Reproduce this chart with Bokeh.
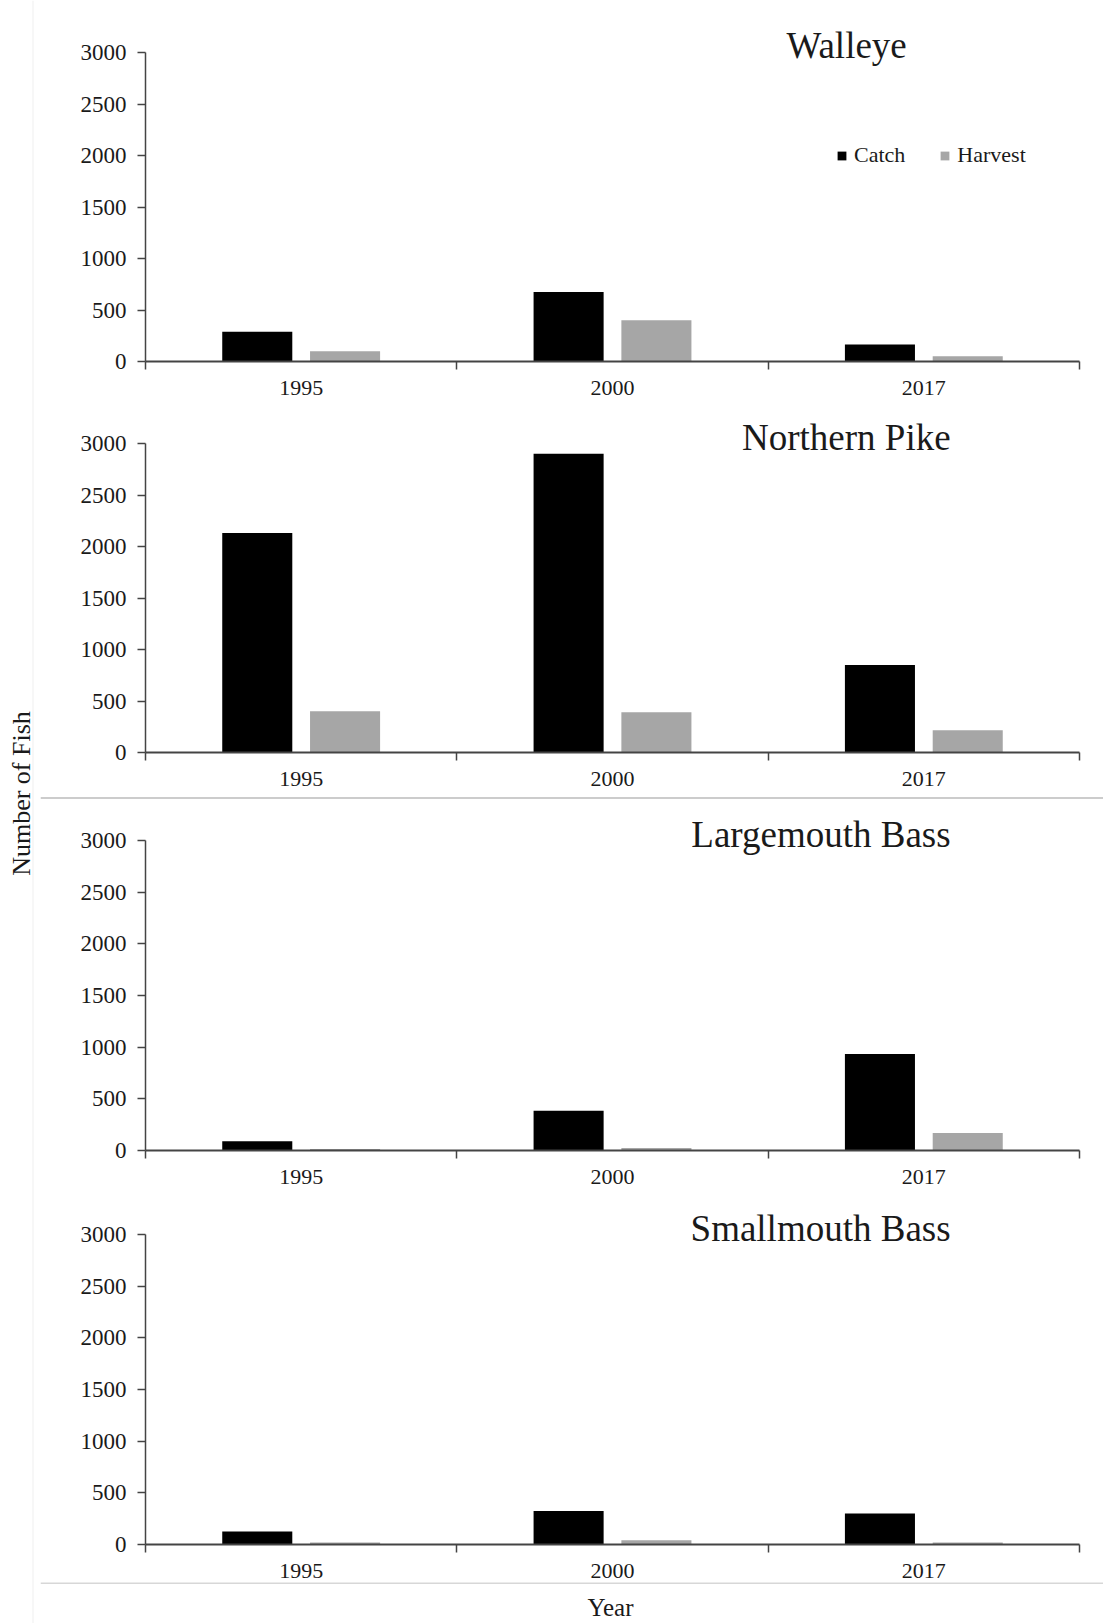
import math
from bokeh.plotting import figure
from bokeh.layouts import column, row
from bokeh.models import (Range1d, FixedTicker, ColumnDataSource, Label, Legend,
                          LegendItem, Span)
from bokeh.transform import dodge
from bokeh.embed import file_html
from bokeh.resources import INLINE

# ---------------- data ----------------
years = ["1995", "2000", "2017"]
species = ["Walleye", "Northern Pike", "Largemouth Bass", "Smallmouth Bass"]
series_names = ["Catch", "Harvest"]

catch_walleye = [290, 675, 165]
harvest_walleye = [100, 400, 50]
catch_pike = [2130, 2900, 850]
harvest_pike = [400, 390, 215]
catch_largemouth = [90, 385, 935]
harvest_largemouth = [15, 25, 170]
catch_smallmouth = [125, 325, 300]
harvest_smallmouth = [20, 40, 20]

y_ticks = [0, 500, 1000, 1500, 2000, 2500, 3000]
y_max = 3000

catch_all = [catch_walleye, catch_pike, catch_largemouth, catch_smallmouth]
harvest_all = [harvest_walleye, harvest_pike, harvest_largemouth, harvest_smallmouth]

# ---------------- style ----------------
FONT = "Liberation Serif"
TXT = "#1a1a1a"
AXC = "#444444"
CATCH_COLOR = "#000000"
HARVEST_COLOR = "#a6a6a6"
LEFT_W = 40
PANEL_W = 1063
EXTRA = 34  # px of frame kept above the 3000 line for the panel titles
# (height, top border above 3000 line, bottom border, axis height in px)
geom = [(400, 52, 39, 309), (392, 43, 40, 309), (390, 40, 40, 310), (392, 44, 38, 310)]
# title placement: (align, x in category units, y offset px)
title_pos = [("center", 2.252, 7), ("right", 2.586, 6), ("right", 2.586, 6), ("right", 2.586, 6)]

n = len(years)
x_centers = [i + 0.5 for i in range(n)]
x_bounds = [float(i) for i in range(n + 1)]

panels = []
for k, name in enumerate(species):
    h, top, bb, axh = geom[k]
    y_end = y_max * (axh + EXTRA) / axh
    p = figure(width=PANEL_W, height=h, output_backend="svg", toolbar_location=None,
               x_range=Range1d(0, n), y_range=Range1d(0, y_end),
               min_border_left=145 - LEFT_W, min_border_right=24,
               min_border_top=top - EXTRA, min_border_bottom=bb)
    p.outline_line_color = None
    p.grid.visible = False
    p.background_fill_color = "white"
    p.border_fill_color = "white"

    src = ColumnDataSource(dict(xc=x_centers, catch=catch_all[k], harvest=harvest_all[k]))
    rc = p.vbar(x=dodge("xc", -0.141), top="catch", width=0.225, source=src,
                fill_color=CATCH_COLOR, line_color=None)
    rh = p.vbar(x=dodge("xc", 0.141), top="harvest", width=0.225, source=src,
                fill_color=HARVEST_COLOR, line_color=None)

    # x axis
    xa = p.xaxis[0]
    xa.ticker = FixedTicker(ticks=x_centers, minor_ticks=x_bounds)
    xa.major_label_overrides = {c: y for c, y in zip(x_centers, years)}
    xa.major_tick_out = 0
    xa.major_tick_in = 0
    xa.minor_tick_out = 8
    xa.minor_tick_in = 0
    xa.minor_tick_line_color = AXC
    xa.minor_tick_line_width = 1.5
    xa.axis_line_color = AXC
    xa.axis_line_width = 2
    xa.major_label_text_font = FONT
    xa.major_label_text_font_size = "22px"
    xa.major_label_text_color = TXT
    xa.major_label_standoff = 11

    # y axis
    ya = p.yaxis[0]
    ya.ticker = FixedTicker(ticks=y_ticks)
    ya.bounds = (0, y_max)
    ya.major_tick_out = 8
    ya.major_tick_in = 0
    ya.minor_tick_out = 0
    ya.minor_tick_in = 0
    ya.major_tick_line_color = AXC
    ya.major_tick_line_width = 1.5
    ya.axis_line_color = AXC
    ya.axis_line_width = 1.5
    ya.major_label_text_font = FONT
    ya.major_label_text_font_size = "23px"
    ya.major_label_text_color = TXT
    ya.major_label_standoff = 11

    align, tx, toff = title_pos[k]
    p.add_layout(Label(x=tx, y=y_max, y_offset=toff, text=name, text_align=align,
                       text_baseline="middle", text_font=FONT, text_font_size="37px",
                       text_color=TXT))

    if k == 0:
        legend = Legend(items=[LegendItem(label=series_names[0], renderers=[rc]),
                               LegendItem(label=series_names[1], renderers=[rh])],
                        orientation="horizontal", location=(691, 193),
                        glyph_width=11, glyph_height=11, label_standoff=7,
                        spacing=34, padding=0, margin=0,
                        border_line_color=None, background_fill_alpha=0,
                        label_text_font=FONT, label_text_font_size="22px",
                        label_text_color=TXT)
        p.add_layout(legend, "center")
    panels.append(p)


def blank(w, h, xr, yr):
    f = figure(width=w, height=h, output_backend="svg", toolbar_location=None,
               x_range=Range1d(*xr), y_range=Range1d(*yr),
               x_axis_type=None, y_axis_type=None,
               min_border=0, min_border_left=0, min_border_right=0,
               min_border_top=0, min_border_bottom=0, frame_align=False)
    f.outline_line_color = None
    f.grid.visible = False
    f.background_fill_color = "white"
    f.border_fill_color = "white"
    return f


# y label strip on the left
left = blank(LEFT_W, 1623, (0, LEFT_W), (0, 1623))
left.add_layout(Span(location=32.5, dimension="height", line_color="#efefef", line_width=1))
left.add_layout(Label(x=21, y=1623 - 793, angle=math.pi / 2, text="Number of Fish",
                      text_align="center", text_baseline="middle", text_font=FONT,
                      text_font_size="26px", text_color=TXT))

# separator between panels 2 and 3 (double grey rule)
sep = blank(PANEL_W, 8, (0, 1), (0, 8))
sep.add_layout(Span(location=6.5, dimension="width", line_color="#999999", line_width=1))
sep.add_layout(Span(location=3.5, dimension="width", line_color="#bbbbbb", line_width=1))

# bottom: line and x label
bottom = blank(PANEL_W, 41, (0, PANEL_W), (0, 41))
bottom.add_layout(Span(location=40.5, dimension="width", line_color="#b0b0b0", line_width=1))
bottom.add_layout(Label(x=610 - LEFT_W, y=16, text="Year", text_align="center",
                        text_baseline="middle", text_font=FONT, text_font_size="25px",
                        text_color=TXT))

layout = row(left, column(panels[0], panels[1], sep, panels[2], panels[3], bottom))

open("out.html", "w").write(file_html(layout, INLINE))
